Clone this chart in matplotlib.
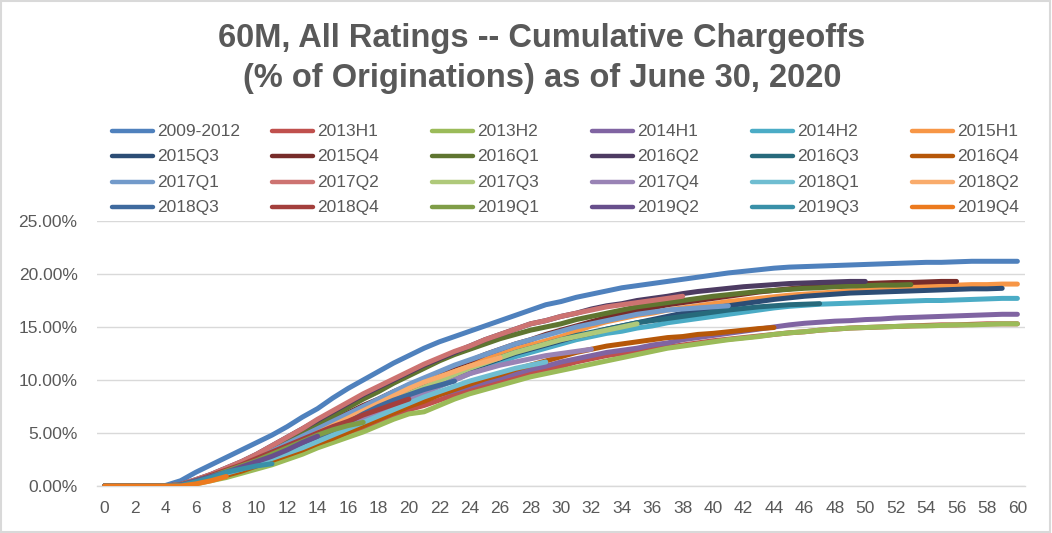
import numpy as np
import matplotlib
matplotlib.use("Agg")
import matplotlib.pyplot as plt
from matplotlib.lines import Line2D
from matplotlib.patches import Rectangle
from matplotlib.ticker import PercentFormatter, FixedLocator

plt.rcParams['font.family'] = ['Liberation Sans', 'DejaVu Sans']

TITLE1 = "60M, All Ratings -- Cumulative Chargeoffs"
TITLE2 = "(% of Originations) as of June 30, 2020"

names = ["2009-2012", "2013H1", "2013H2", "2014H1", "2014H2", "2015H1",
         "2015Q3", "2015Q4", "2016Q1", "2016Q2", "2016Q3", "2016Q4",
         "2017Q1", "2017Q2", "2017Q3", "2017Q4", "2018Q1", "2018Q2",
         "2018Q3", "2018Q4", "2019Q1", "2019Q2", "2019Q3", "2019Q4"]

colors = ["#4F81BD", "#C0504D", "#9BBB59", "#8064A2", "#4BACC6", "#F79646",
          "#2C4D75", "#772C2A", "#5F7530", "#4D3B62", "#276A7C", "#B65708",
          "#729ACA", "#CD7371", "#AFC97A", "#9983B5", "#6FBDD1", "#F9AB6B",
          "#3F6A9E", "#A33F3C", "#7F9D47", "#684F8C", "#3990A8", "#EC7A1E"]

# cumulative chargeoffs (%), month 0 onward
v2009_2012 = [0, 0, 0, 0, 0.05, 0.5, 1.3, 2.0, 2.7, 3.4, 4.1, 4.8, 5.6, 6.5, 7.3, 8.3, 9.2, 10.0, 10.8, 11.6,
              12.3, 13.0, 13.6, 14.1, 14.6, 15.1, 15.6, 16.1, 16.6, 17.1, 17.4, 17.8, 18.1, 18.4, 18.7, 18.9,
              19.1, 19.3, 19.5, 19.7, 19.9, 20.1, 20.25, 20.4, 20.55, 20.65, 20.7, 20.75, 20.8, 20.85, 20.9,
              20.95, 21.0, 21.05, 21.1, 21.1, 21.15, 21.2, 21.2, 21.2, 21.2]
v2013H1 = [0, 0, 0, 0, 0, 0.1, 0.3, 0.6, 1.0, 1.4, 1.8, 2.3, 2.8, 3.3, 3.8, 4.4, 5.0, 5.5, 6.1, 6.7,
           7.2, 7.6, 8.1, 8.6, 9.0, 9.4, 9.8, 10.2, 10.6, 10.9, 11.3, 11.7, 12.0, 12.3, 12.5, 12.7, 12.9,
           13.1, 13.3, 13.5, 13.7, 13.85, 14.0, 14.15, 14.3, 14.45, 14.55, 14.7, 14.8, 14.9, 14.95, 15.0,
           15.05, 15.1, 15.15, 15.2, 15.2, 15.25, 15.3, 15.3, 15.3]
v2013H2 = [0, 0, 0, 0, 0, 0.05, 0.2, 0.5, 0.8, 1.2, 1.6, 2.0, 2.5, 3.0, 3.6, 4.1, 4.6, 5.1, 5.7, 6.3,
           6.8, 7.0, 7.6, 8.2, 8.7, 9.1, 9.5, 9.9, 10.3, 10.6, 10.9, 11.2, 11.5, 11.8, 12.1, 12.4, 12.7,
           13.0, 13.2, 13.4, 13.6, 13.8, 13.95, 14.1, 14.3, 14.45, 14.55, 14.7, 14.8, 14.9, 14.95, 15.0,
           15.05, 15.1, 15.1, 15.15, 15.2, 15.2, 15.25, 15.3, 15.3]
v2014H1 = [0, 0, 0, 0, 0, 0.1, 0.35, 0.7, 1.1, 1.5, 2.0, 2.5, 3.0, 3.5, 4.1, 4.7, 5.2, 5.8, 6.4, 7.0,
           7.6, 8.1, 8.6, 9.0, 9.4, 9.8, 10.2, 10.6, 11.0, 11.3, 11.7, 12.0, 12.3, 12.6, 12.8, 13.0, 13.3,
           13.5, 13.8, 14.0, 14.2, 14.4, 14.6, 14.8, 15.0, 15.2, 15.35, 15.45, 15.55, 15.6, 15.7, 15.75,
           15.85, 15.9, 15.95, 16.0, 16.05, 16.1, 16.15, 16.2, 16.2]
v2014H2 = [0, 0, 0, 0, 0, 0.1, 0.4, 0.8, 1.3, 1.8, 2.3, 2.8, 3.3, 3.9, 4.5, 5.2, 5.8, 6.4, 7.0, 7.6,
           8.2, 8.8, 9.4, 10.0, 10.6, 11.2, 11.7, 12.2, 12.6, 13.0, 13.4, 13.8, 14.1, 14.4, 14.6, 14.9,
           15.1, 15.4, 15.6, 15.8, 16.0, 16.2, 16.4, 16.6, 16.8, 16.95, 17.05, 17.15, 17.2, 17.25, 17.3,
           17.35, 17.4, 17.45, 17.5, 17.5, 17.55, 17.6, 17.65, 17.7, 17.7]
v2015H1 = [0, 0, 0, 0, 0, 0.1, 0.5, 1.0, 1.5, 2.0, 2.6, 3.2, 3.8, 4.5, 5.2, 5.9, 6.6, 7.3, 7.9, 8.5,
           9.1, 9.7, 10.3, 10.9, 11.4, 11.9, 12.4, 12.9, 13.3, 13.7, 14.1, 14.6, 15.1, 15.5, 15.8, 16.1,
           16.3, 16.6, 16.8, 17.0, 17.2, 17.4, 17.55, 17.7, 17.85, 18.0, 18.1, 18.2, 18.3, 18.4, 18.5,
           18.6, 18.7, 18.8, 18.85, 18.9, 18.95, 19.0, 19.0, 19.05, 19.05]
v2015Q3 = [0, 0, 0, 0, 0, 0.1, 0.5, 0.9, 1.4, 1.9, 2.5, 3.0, 3.6, 4.2, 4.9, 5.5, 6.2, 6.9, 7.5, 8.1,
           8.7, 9.3, 9.9, 10.5, 11.0, 11.5, 12.0, 12.5, 12.9, 13.3, 13.7, 14.1, 14.4, 14.8, 15.1, 15.4,
           15.7, 16.0, 16.3, 16.6, 16.8, 17.0, 17.2, 17.4, 17.6, 17.75, 17.9, 18.0, 18.1, 18.2, 18.25,
           18.3, 18.35, 18.4, 18.45, 18.5, 18.55, 18.6, 18.6, 18.65]
v2015Q4 = [0, 0, 0, 0, 0, 0.1, 0.5, 1.0, 1.6, 2.2, 2.8, 3.4, 4.1, 4.8, 5.5, 6.2, 6.9, 7.6, 8.2, 8.9,
           9.5, 10.1, 10.7, 11.3, 11.8, 12.4, 12.9, 13.4, 13.8, 14.3, 14.7, 15.1, 15.5, 15.9, 16.2, 16.5,
           16.8, 17.1, 17.3, 17.5, 17.7, 17.9, 18.1, 18.3, 18.45, 18.6, 18.75, 18.85, 18.95, 19.0, 19.1,
           19.15, 19.2, 19.2, 19.25, 19.3, 19.3]
v2016Q1 = [0, 0, 0, 0, 0, 0.1, 0.5, 1.0, 1.6, 2.2, 2.8, 3.5, 4.2, 5.0, 5.8, 6.6, 7.4, 8.2, 8.9, 9.7,
           10.4, 11.1, 11.8, 12.4, 12.9, 13.4, 13.9, 14.3, 14.7, 15.0, 15.3, 15.7, 16.0, 16.3, 16.6, 16.9,
           17.1, 17.3, 17.5, 17.7, 17.9, 18.05, 18.2, 18.35, 18.45, 18.55, 18.65, 18.7, 18.8, 18.85, 18.9,
           18.95, 18.95, 19.0]
v2016Q2 = [0, 0, 0, 0, 0, 0.15, 0.6, 1.1, 1.7, 2.3, 3.0, 3.8, 4.6, 5.4, 6.2, 7.0, 7.8, 8.6, 9.3, 10.0,
           10.7, 11.4, 12.0, 12.6, 13.2, 13.8, 14.3, 14.8, 15.3, 15.6, 16.0, 16.3, 16.7, 17.0, 17.2, 17.5,
           17.7, 17.9, 18.15, 18.35, 18.5, 18.65, 18.8, 18.9, 19.0, 19.1, 19.15, 19.2, 19.25, 19.3, 19.3]
v2016Q3 = [0, 0, 0, 0, 0, 0.1, 0.5, 0.9, 1.4, 1.9, 2.5, 3.0, 3.6, 4.3, 4.9, 5.6, 6.2, 6.9, 7.5, 8.2,
           8.8, 9.4, 10.0, 10.6, 11.1, 11.6, 12.1, 12.6, 13.0, 13.4, 13.8, 14.2, 14.5, 14.8, 15.1, 15.4,
           15.6, 15.8, 16.0, 16.2, 16.4, 16.6, 16.75, 16.9, 17.0, 17.1, 17.15, 17.2]
v2016Q4 = [0, 0, 0, 0, 0, 0.05, 0.3, 0.6, 1.0, 1.4, 1.9, 2.4, 2.9, 3.4, 4.0, 4.5, 5.1, 5.7, 6.3, 6.9,
           7.5, 8.0, 8.6, 9.1, 9.6, 10.1, 10.5, 11.0, 11.4, 11.8, 12.2, 12.6, 12.9, 13.2, 13.4, 13.6,
           13.8, 14.0, 14.1, 14.3, 14.4, 14.55, 14.7, 14.85, 14.95]
v2017Q1 = [0, 0, 0, 0, 0, 0.1, 0.5, 1.0, 1.5, 2.1, 2.7, 3.3, 4.0, 4.7, 5.4, 6.1, 6.8, 7.5, 8.2, 8.9,
           9.6, 10.2, 10.8, 11.4, 11.9, 12.4, 12.9, 13.4, 13.8, 14.2, 14.6, 15.0, 15.3, 15.6, 15.9, 16.2,
           16.4, 16.6, 16.7, 16.8, 16.9, 17.0]
v2017Q2 = [0, 0, 0, 0, 0, 0.15, 0.6, 1.1, 1.7, 2.3, 3.0, 3.8, 4.6, 5.4, 6.3, 7.1, 7.9, 8.7, 9.4, 10.1,
           10.8, 11.5, 12.1, 12.7, 13.2, 13.8, 14.3, 14.8, 15.3, 15.6, 16.0, 16.3, 16.6, 16.9, 17.1, 17.3,
           17.5, 17.7, 17.9]
v2017Q3 = [0, 0, 0, 0, 0, 0.1, 0.4, 0.9, 1.3, 1.8, 2.4, 2.9, 3.5, 4.1, 4.8, 5.4, 6.1, 6.7, 7.4, 8.0,
           8.7, 9.3, 9.9, 10.5, 11.1, 11.6, 12.1, 12.6, 13.0, 13.4, 13.8, 14.1, 14.4, 14.7, 15.0, 15.3]
v2017Q4 = [0, 0, 0, 0, 0, 0.1, 0.4, 0.8, 1.3, 1.8, 2.3, 2.8, 3.4, 4.0, 4.6, 5.2, 5.8, 6.4, 7.0, 7.6,
           8.2, 8.8, 9.4, 10.0, 10.6, 11.0, 11.4, 11.7, 12.0, 12.3, 12.5, 12.7, 12.9]
v2018Q1 = [0, 0, 0, 0, 0, 0.1, 0.4, 0.8, 1.2, 1.6, 2.1, 2.6, 3.1, 3.6, 4.2, 4.8, 5.4, 6.0, 6.6, 7.2,
           7.8, 8.4, 8.9, 9.4, 9.9, 10.3, 10.7, 11.1, 11.4, 11.7]
v2018Q2 = [0, 0, 0, 0, 0, 0.1, 0.5, 0.9, 1.4, 1.9, 2.5, 3.1, 3.7, 4.3, 5.0, 5.7, 6.4, 7.1, 7.8, 8.5,
           9.2, 9.8, 10.3, 10.8, 11.3, 11.7, 12.1]
v2018Q3 = [0, 0, 0, 0, 0, 0.1, 0.5, 0.9, 1.4, 1.9, 2.4, 2.9, 3.5, 4.1, 4.7, 5.3, 6.0, 6.8, 7.5, 8.1,
           8.6, 9.1, 9.5, 9.9]
v2018Q4 = [0, 0, 0, 0, 0, 0.1, 0.5, 1.0, 1.5, 2.0, 2.6, 3.2, 3.8, 4.4, 5.0, 5.6, 6.1, 6.7, 7.2, 7.7,
           8.2]
v2019Q1 = [0, 0, 0, 0, 0, 0.1, 0.5, 0.9, 1.4, 1.9, 2.4, 3.0, 3.6, 4.2, 4.8, 5.3, 5.7, 6.0]
v2019Q2 = [0, 0, 0, 0, 0, 0.1, 0.5, 0.9, 1.3, 1.8, 2.3, 2.8, 3.4, 4.1, 4.7]
v2019Q3 = [0, 0, 0, 0, 0, 0.05, 0.4, 0.8, 1.3, 1.6, 1.9, 2.1]
v2019Q4 = [0, 0, 0, 0, 0, 0, 0.2, 0.5, 0.9]

series = [v2009_2012, v2013H1, v2013H2, v2014H1, v2014H2, v2015H1,
          v2015Q3, v2015Q4, v2016Q1, v2016Q2, v2016Q3, v2016Q4,
          v2017Q1, v2017Q2, v2017Q3, v2017Q4, v2018Q1, v2018Q2,
          v2018Q3, v2018Q4, v2019Q1, v2019Q2, v2019Q3, v2019Q4]

x_ticks = list(range(0, 61, 2))
y_ticks = [0, 0.05, 0.10, 0.15, 0.20, 0.25]

W, H = 1052, 533
fig = plt.figure(figsize=(W / 100, H / 100), dpi=100)
fig.patch.set_facecolor("white")

ax = fig.add_axes([97 / W, 1 - 486 / H, (1025 - 97) / W, (486 - 221) / H])
TXT = "#595959"
GRID = "#D9D9D9"

for vals, c in zip(series, colors):
    x = np.arange(len(vals))
    ax.plot(x, np.array(vals) / 100.0, color=c, lw=3.6,
            solid_capstyle="round", solid_joinstyle="round", zorder=3)

ax.set_xlim(-0.5, 60.5)
ax.set_ylim(0, 0.25)
ax.yaxis.set_major_locator(FixedLocator(y_ticks))
ax.yaxis.set_major_formatter(PercentFormatter(1.0, decimals=2))
ax.xaxis.set_major_locator(FixedLocator(x_ticks))
ax.grid(axis="y", color=GRID, lw=1.0, zorder=0)
ax.set_axisbelow(True)
for s in ["top", "right", "left"]:
    ax.spines[s].set_visible(False)
ax.spines["bottom"].set_color(GRID)
ax.spines["bottom"].set_linewidth(1.0)
ax.tick_params(axis="both", length=0, colors=TXT, labelsize=12.5)
ax.tick_params(axis="y", pad=14)
ax.tick_params(axis="x", pad=11)

# title
fig.text(0.515, 1 - 38 / H, TITLE1, ha="center", va="center", fontsize=23.5,
         fontweight="bold", color=TXT)
fig.text(0.515, 1 - 78 / H, TITLE2, ha="center", va="center", fontsize=23.5,
         fontweight="bold", color=TXT)

# legend (row-major like the original)
row_y = [131, 156, 182, 207]
for i, (nm, c) in enumerate(zip(names, colors)):
    r, col = divmod(i, 6)
    x0 = 112 + 160 * col
    y = 1 - row_y[r] / H
    fig.add_artist(Line2D([x0 / W, (x0 + 41) / W], [y, y], transform=fig.transFigure,
                          color=c, lw=3.2, solid_capstyle="round"))
    fig.text((x0 + 45) / W, y, nm, ha="left", va="center", fontsize=12.5, color=TXT)

fig.add_artist(Rectangle((0.0005, 0.001), 0.998, 0.997, transform=fig.transFigure,
                         fill=False, edgecolor=GRID, lw=1.5))

fig.savefig("out.png", dpi=100)
